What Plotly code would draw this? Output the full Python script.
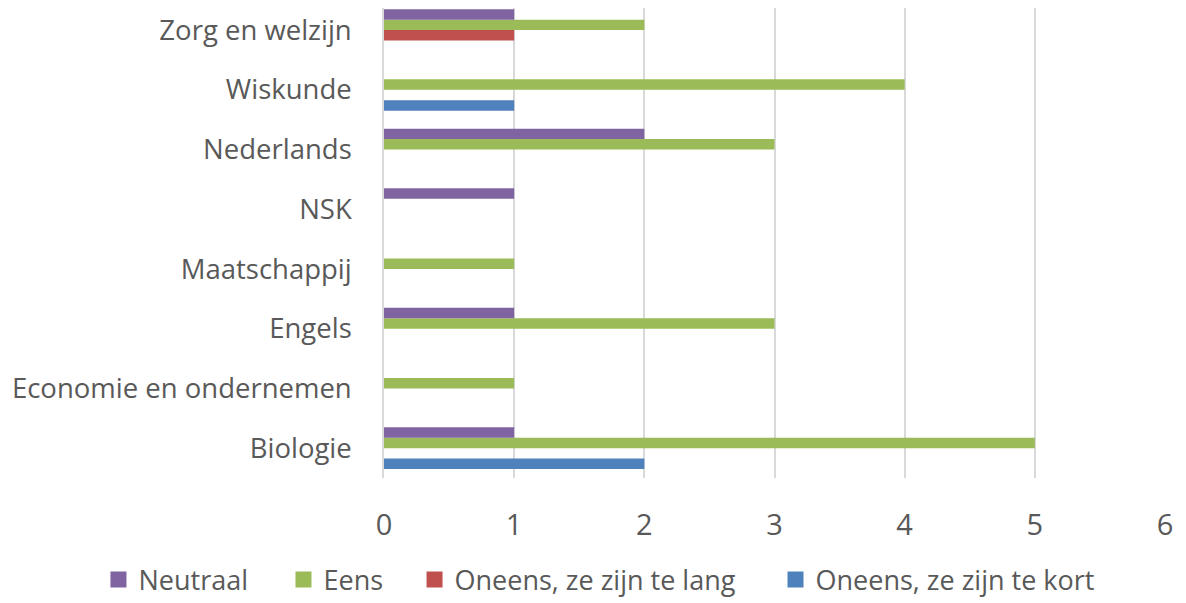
import plotly.graph_objects as go

categories = ["Biologie", "Economie en ondernemen", "Engels", "Maatschappij",
              "NSK", "Nederlands", "Wiskunde", "Zorg en welzijn"]
neutraal = [1, 0, 1, 0, 1, 2, 0, 1]
eens = [5, 1, 3, 1, 0, 3, 4, 2]
oneens_lang = [0, 0, 0, 0, 0, 0, 0, 1]
oneens_kort = [2, 0, 0, 0, 0, 0, 1, 0]
x_ticks = [0, 1, 2, 3, 4, 5, 6]

series = [
    ("Oneens, ze zijn te kort", oneens_kort, "#4F81BD"),
    ("Oneens, ze zijn te lang", oneens_lang, "#C0504D"),
    ("Eens", eens, "#9BBB59"),
    ("Neutraal", neutraal, "#8064A2"),
]

fig = go.Figure()
for name, vals, col in series:
    fig.add_trace(go.Bar(
        y=categories, x=vals, name=name, orientation="h",
        marker=dict(color=col, line=dict(width=0)),
        legendgroup=name, showlegend=False,
    ))

# one legend box per entry so the spacing matches the reference
legend_ids = ["legend", "legend2", "legend3", "legend4"]
legend_x = [-0.3656, -0.1287, 0.0391, 0.5013]
for (name, vals, col), lid in zip(reversed(series), legend_ids):
    fig.add_trace(go.Scatter(
        x=[None], y=[None], mode="markers", name=name, legendgroup=name,
        marker=dict(symbol="square", size=16, color=col),
        showlegend=True, hoverinfo="skip", legend=lid,
    ))

font_family = "Open Sans, Lato, sans-serif"
txt = "#595959"
fig.update_layout(
    width=1186, height=603,
    barmode="group", bargap=0.3, bargroupgap=0,
    plot_bgcolor="white", paper_bgcolor="white",
    margin=dict(l=376, r=29, t=0, b=133),
    font=dict(family=font_family, color=txt, size=26),
    xaxis=dict(range=[0, 6], tickvals=x_ticks, showgrid=True,
               gridcolor="#D9D9D9", gridwidth=1.5, zeroline=False,
               showline=False, ticks="", ticklabelstandoff=27,
               tickfont=dict(size=29, color=txt)),
    yaxis=dict(range=[-0.5, 7.37], showgrid=False, zeroline=False,
               showline=True, linecolor="#D9D9D9", linewidth=1.5, ticks="",
               ticklabelstandoff=25,
               tickfont=dict(size=27.5, color=txt)),
    showlegend=True,
)
for lid, lx in zip(legend_ids, legend_x):
    fig.update_layout({lid: dict(
        orientation="h", x=lx, xanchor="left", y=-0.217, yanchor="middle",
        font=dict(size=27, color=txt), itemwidth=30,
        bgcolor="rgba(0,0,0,0)")})

fig.write_html("out.html")
